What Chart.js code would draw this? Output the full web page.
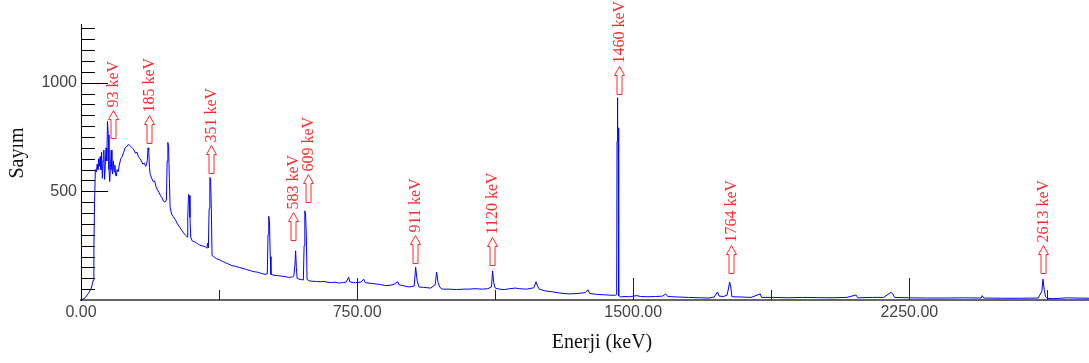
<!DOCTYPE html>
<html>
<head>
<meta charset="utf-8">
<script src="https://cdn.jsdelivr.net/npm/chart.js@4/dist/chart.umd.min.js"></script>
<style>
    body { margin: 0; background: #fff; }
    #wrap { width: 1089px; height: 363px; position: relative; }
</style>
</head>
<body>
<div id="wrap"><canvas id="spectrum"></canvas></div>
<script>
// spectrum: energy (keV) and counts
const energies = [
    0, 10, 20, 28, 33, 35, 37, 39, 42, 44, 46, 48, 50, 52, 54, 56, 58, 60, 62, 64,
    66, 68, 70, 72, 74, 76, 78, 80, 82, 84, 86, 88, 90, 92, 94, 96, 98, 101, 104, 108,
    112, 116, 120, 124, 128, 132, 136, 140, 144, 148, 152, 156, 160, 164, 168, 172, 176, 180, 182, 184,
    186, 188, 192, 196, 200, 204, 208, 212, 216, 220, 224, 228, 232, 234, 236, 238, 240, 242, 246, 250,
    256, 262, 268, 274, 280, 286, 288, 290, 292, 294, 296, 298, 302, 308, 314, 320, 326, 332, 338, 342,
    344, 346, 348, 350, 352, 354, 356, 360, 368, 376, 384, 392, 400, 410, 420, 430, 440, 450, 460, 470,
    480, 490, 500, 506, 508, 510, 512, 514, 516, 524, 534, 544, 554, 564, 574, 578, 581, 583, 585, 587,
    592, 598, 604, 606, 608, 610, 612, 614, 620, 630, 640, 650, 660, 668, 680, 690, 700, 710, 720, 727,
    730, 740, 746, 760, 768, 772, 790, 810, 828, 840, 850, 860, 864, 880, 891, 905, 909, 913, 918, 930,
    950, 962, 966, 970, 975, 981, 1000, 1020, 1040, 1054, 1070, 1090, 1105, 1115, 1118, 1121, 1125, 1136, 1150, 1165,
    1180, 1190, 1210, 1230, 1236, 1240, 1245, 1260, 1280, 1300, 1326, 1350, 1370, 1377, 1382, 1400, 1420, 1440, 1452, 1455,
    1456, 1457, 1458, 1459, 1460, 1461, 1466, 1475, 1490, 1500, 1510, 1520, 1540, 1560, 1580, 1588, 1594, 1620, 1650, 1680,
    1706, 1720, 1729, 1733, 1745, 1755, 1762, 1765, 1768, 1790, 1820, 1845, 1849, 1880, 1920, 1960, 2000, 2040, 2080, 2105,
    2110, 2150, 2180, 2200, 2205, 2210, 2250, 2300, 2350, 2400, 2445, 2448, 2452, 2500, 2550, 2600, 2610, 2613, 2616, 2620,
    2624, 2640, 2660, 2680, 2700, 2738
];
const counts = [
    0, 8, 30, 55, 90, 250, 460, 600, 590, 625, 600, 650, 615, 660, 600, 680, 560, 640, 690, 555,
    620, 700, 640, 822, 760, 600, 545, 610, 690, 600, 580, 640, 590, 620, 575, 570, 600, 590, 620, 650,
    660, 680, 700, 705, 715, 712, 705, 698, 690, 675, 680, 660, 650, 640, 625, 630, 615, 640, 700, 690,
    610, 578, 560, 545, 548, 520, 505, 495, 480, 470, 455, 450, 460, 640, 725, 700, 560, 430, 395, 385,
    370, 350, 335, 320, 305, 296, 290, 380, 486, 480, 380, 290, 272, 268, 262, 255, 250, 248, 245, 238,
    262, 240, 420, 564, 560, 420, 205, 200, 190, 185, 178, 172, 166, 158, 155, 150, 145, 140, 135, 130,
    128, 122, 118, 120, 300, 385, 360, 200, 118, 114, 112, 110, 108, 104, 106, 110, 160, 226, 150, 100,
    96, 94, 92, 250, 410, 395, 300, 95, 88, 86, 85, 84, 86, 82, 80, 82, 78, 80, 82, 105,
    84, 80, 80, 82, 96, 80, 76, 72, 66, 68, 72, 84, 70, 64, 60, 64, 151, 90, 60, 58,
    55, 70, 128, 80, 58, 50, 50, 48, 50, 50, 52, 50, 52, 60, 134, 80, 55, 50, 48, 52,
    55, 52, 50, 56, 84, 64, 50, 42, 38, 32, 28, 30, 34, 47, 30, 26, 24, 22, 22, 25,
    730, 931, 800, 790, 340, 20, 14, 16, 15, 18, 20, 16, 15, 16, 18, 28, 16, 14, 12, 10,
    9, 14, 37, 18, 16, 22, 82, 60, 15, 14, 12, 28, 12, 12, 10, 12, 11, 10, 12, 23,
    10, 12, 12, 35, 28, 12, 10, 9, 9, 10, 9, 20, 9, 8, 8, 9, 40, 96, 50, 15,
    8, 6, 8, 10, 9, 8
];

// axis labels
const xTickLabels = [0, 750, 1500, 2250];
const yTickLabels = [500, 1000];

// marked peaks
const peakLabels = ["93 keV", "185 keV", "351 keV", "583 keV", "609 keV", "911 keV", "1120 keV", "1460 keV", "1764 keV", "2613 keV"];

// where each arrow stands: energy (keV) and foot height (counts)
const arrowAt = [88, 185, 353, 576, 616, 908, 1117, 1460, 1766, 2614];
const arrowFoot = [747, 723, 585, 276, 452, 170, 161, 949, 124, 124];

const points = energies.map((e, i) => ({ x: e, y: counts[i] }));

// ticks drawn inwards, peak arrows, axis titles
const decorations = {
    id: "decorations",
    afterDraw(chart) {
        const { ctx, scales: { x, y }, chartArea } = chart;
        ctx.save();

        // y ticks every 50, long ones on labels
        ctx.strokeStyle = "#000";
        ctx.lineWidth = 1;
        for (let v = 50; v <= 1250; v += 50) {
            const py = Math.round(y.getPixelForValue(v)) + 0.5;
            const len = yTickLabels.includes(v) ? 27 : 14;
            ctx.beginPath();
            ctx.moveTo(chartArea.left, py);
            ctx.lineTo(chartArea.left + len, py);
            ctx.stroke();
        }

        // x ticks every 375, long ones on labels
        ctx.strokeStyle = "#222";
        for (let v = 375; v <= 2700; v += 375) {
            const px = Math.round(x.getPixelForValue(v)) + 0.5;
            const len = xTickLabels.includes(v) ? 22 : 10;
            ctx.beginPath();
            ctx.moveTo(px, chartArea.bottom);
            ctx.lineTo(px, chartArea.bottom - len);
            ctx.stroke();
        }

        // hollow arrows and rotated labels
        ctx.strokeStyle = "#ff2a2a";
        ctx.fillStyle = "#ff2a2a";
        ctx.font = "16px 'Liberation Serif', 'Times New Roman', serif";
        peakLabels.forEach((label, i) => {
            const cx = Math.round(x.getPixelForValue(arrowAt[i])) + 0.5;
            const yb = Math.round(y.getPixelForValue(arrowFoot[i])) + 0.5;
            const L = 28, head = 9;
            ctx.beginPath();
            ctx.moveTo(cx - 2.5, yb);
            ctx.lineTo(cx - 2.5, yb - L + head);
            ctx.lineTo(cx - 5, yb - L + head);
            ctx.lineTo(cx, yb - L);
            ctx.lineTo(cx + 5, yb - L + head);
            ctx.lineTo(cx + 2.5, yb - L + head);
            ctx.lineTo(cx + 2.5, yb);
            ctx.closePath();
            ctx.stroke();

            ctx.save();
            ctx.translate(cx, yb - L - 3);
            ctx.rotate(-Math.PI / 2);
            ctx.textAlign = "left";
            ctx.textBaseline = "middle";
            ctx.fillText(label, 0, 0);
            ctx.restore();
        });

        // axis titles
        ctx.fillStyle = "#111";
        ctx.font = "20px 'Liberation Serif', 'Times New Roman', serif";
        ctx.textAlign = "center";
        ctx.textBaseline = "middle";
        ctx.fillText("Enerji (keV)", 602, 343);
        ctx.save();
        ctx.translate(18, 153);
        ctx.rotate(-Math.PI / 2);
        ctx.fillText("Sayım", 0, 0);
        ctx.restore();

        ctx.restore();
    },
};

document.addEventListener("DOMContentLoaded", () => {
    const ctx = document.getElementById("spectrum").getContext("2d");
    new Chart(ctx, {
        type: "line",
        data: {
            datasets: [
                {
                    data: points,
                    borderColor: "#0000ff",
                    borderWidth: 1,
                    pointRadius: 0,
                    tension: 0,
                    fill: false,
                },
            ],
        },
        options: {
            responsive: true,
            maintainAspectRatio: false,
            animation: false,
            layout: { padding: { top: 24, right: 0, left: 0, bottom: 0 } },
            plugins: {
                legend: { display: false },
                tooltip: { enabled: false },
            },
            scales: {
                x: {
                    type: "linear",
                    min: 0,
                    max: 2738,
                    afterFit: (scale) => { scale.height = 63; },
                    afterBuildTicks: (scale) => { scale.ticks = xTickLabels.map((v) => ({ value: v })); },
                    ticks: {
                        padding: 3,
                        maxRotation: 0,
                        autoSkip: false,
                        color: "#444",
                        font: { family: "'Liberation Sans', Arial, sans-serif", size: 16 },
                        callback: (v) => Number(v).toFixed(2),
                    },
                    grid: { display: true, drawOnChartArea: false, drawTicks: false },
                    border: { display: true, color: "#666", width: 2 },
                },
                y: {
                    min: 0,
                    max: 1270,
                    afterFit: (scale) => { scale.width = 81; },
                    afterBuildTicks: (scale) => { scale.ticks = yTickLabels.map((v) => ({ value: v })); },
                    ticks: {
                        padding: 4,
                        autoSkip: false,
                        color: "#444",
                        font: { family: "'Liberation Sans', Arial, sans-serif", size: 16 },
                        callback: (v) => String(v),
                    },
                    grid: { display: true, drawOnChartArea: false, drawTicks: false },
                    border: { display: true, color: "#000", width: 1 },
                },
            },
        },
        plugins: [decorations],
    });
});
</script>
</body>
</html>
